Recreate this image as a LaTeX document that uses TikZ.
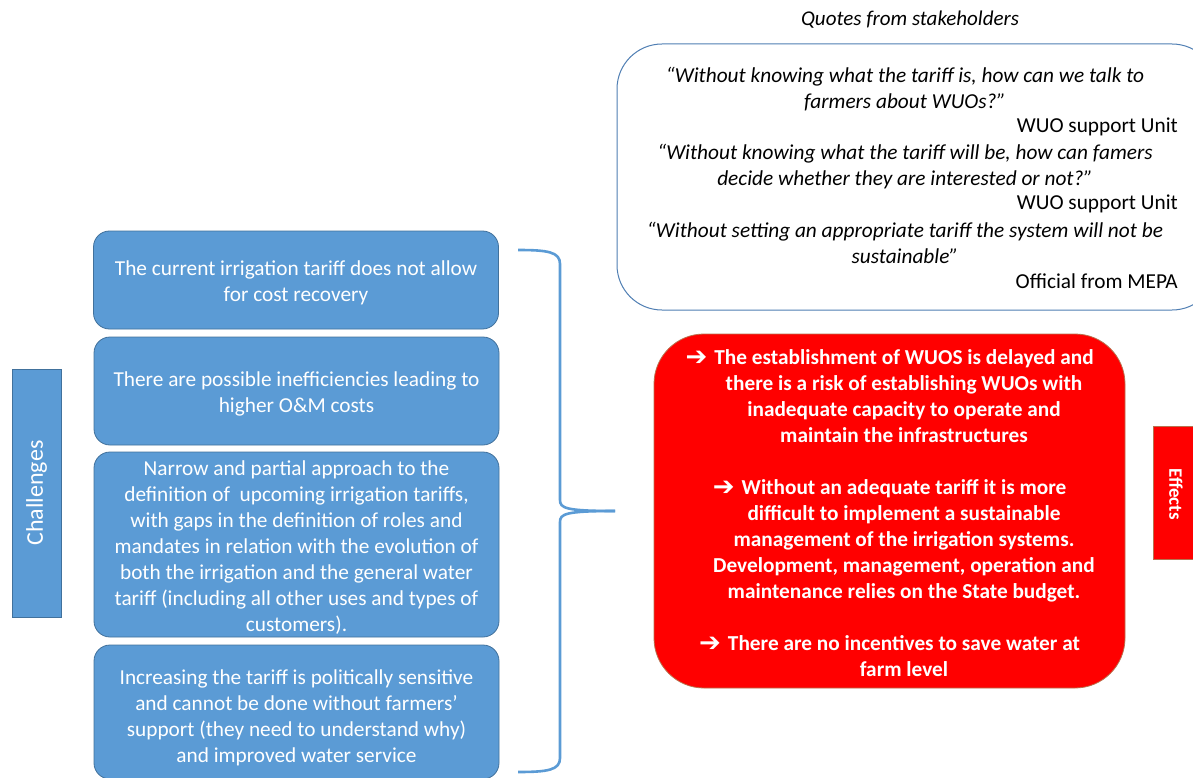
\documentclass[tikz,border=0pt]{standalone}
\usepackage{fontspec}
\setmainfont{Carlito}
\newfontfamily\arrowfont{DejaVu Sans}
\definecolor{boxblue}{HTML}{5B9BD5}
\definecolor{boxblueline}{HTML}{41719C}
\definecolor{quoteline}{HTML}{4F7EB3}
\definecolor{effred}{HTML}{FF0000}
\definecolor{effline}{HTML}{B8714E}
\newcommand{\effarrow}{\llap{\raisebox{-1pt}{\arrowfont\bfseries\fontsize{26pt}{26pt}\selectfont ➔}\hspace{7pt}}}
\tikzset{
  basefont/.style={font=\fontsize{21.3pt}{26pt}\selectfont},
  challengebox/.style={draw=boxblueline, line width=0.8pt, fill=boxblue, rounded corners=16pt, inner sep=0pt},
  challengetext/.style={text=white, basefont, align=center, inner sep=0pt},
  sidelabel/.style={draw=boxblueline, line width=0.8pt, fill=boxblue, inner sep=0pt},
  effectlabel/.style={draw=effline, line width=0.8pt, fill=effred, inner sep=0pt},
  quotebox/.style={draw=quoteline, line width=1pt, fill=white, rounded corners=45pt, inner sep=0pt},
  effectbox/.style={draw=effline, line width=0.8pt, fill=effred, rounded corners=50pt, inner sep=0pt},
  quotetext/.style={align=center, inner sep=0pt, font=\fontsize{21.3pt}{26pt}\selectfont\itshape},
  attribution/.style={basefont, inner sep=0pt, anchor=east},
  bracket/.style={draw=boxblue, line width=2.6pt},
}
\begin{document}
\begin{tikzpicture}[x=1pt,y=-1pt]
\path[use as bounding box] (0,0) rectangle (1193,778);
\clip (0,0) rectangle (1193,778);

% Left column: side label and the four challenges
\node[sidelabel, minimum width=49pt, minimum height=248pt] (chal) at (36.5,493) {};
\node[rotate=90, text=white, inner sep=0pt, font=\fontsize{24pt}{28pt}\selectfont] (chaltext) at (chal.center) {Challenges};

\node[challengebox, minimum width=405pt, minimum height=98pt] (c1) at (296,280) {};
\node[challengetext] (c1t) at (296,283)
  {The current irrigation tariff does not allow\\for cost recovery};
\node[challengebox, minimum width=405pt, minimum height=108pt] (c2) at (296.5,391) {};
\node[challengetext] (c2t) at (296.5,394)
  {There are possible inefficiencies leading to\\higher O\&M costs};
\node[challengebox, minimum width=405pt, minimum height=185pt] (c3) at (296.5,544.5) {};
\node[challengetext] (c3t) at (296.5,547.5)
  {Narrow and partial approach to the\\definition of\ \ upcoming irrigation tariffs,\\with gaps in the definition of roles and\\mandates in relation with the evolution of\\both the irrigation and the general water\\tariff (including all other uses and types of\\customers).};
\node[challengebox, minimum width=405pt, minimum height=134pt] (c4) at (296.5,712) {};
\node[challengetext] (c4t) at (296.5,718)
  {Increasing the tariff is politically sensitive\\and cannot be done without farmers’\\support (they need to understand why)\\and improved water service};

% Right brace gathering the challenges
\coordinate (btop) at (518,250);
\coordinate (btip) at (615,511);
\coordinate (bbot) at (518,772);
\draw[bracket] (btop) .. controls (548,250) and (560,252) .. (560,264)
  -- (560,500) .. controls (560,508) and (565,511) .. (btip);
\draw[bracket] (btip) .. controls (565,511) and (560,514) .. (560,522)
  -- (560,758) .. controls (560,770) and (548,772) .. (bbot);

% Quotes
\node[font=\fontsize{21pt}{26pt}\selectfont\itshape, inner sep=0pt] (qtitle) at (910,20) {Quotes from stakeholders};
\node[quotebox, minimum width=600pt, minimum height=266pt] (qbox) at (917,177) {};
\node[quotetext] (q1) at (905,89) {“Without knowing what the tariff is, how can we talk to\\farmers about WUOs?”};
\node[attribution] (a1) at (1178,127) {WUO support Unit};
\node[quotetext] (q2) at (905,167) {“Without knowing what the tariff will be, how can famers\\decide whether they are interested or not?”};
\node[attribution] (a2) at (1178,204) {WUO support Unit};
\node[quotetext] (q3) at (905,243) {“Without setting an appropriate tariff the system will not be\\sustainable”};
\node[attribution] (a3) at (1178,281) {Official from MEPA};

% Effects
\node[effectbox, minimum width=471pt, minimum height=354pt] (ebox) at (889.5,511) {};
\node[text=white, align=center, inner sep=0pt, font=\fontsize{21.3pt}{26pt}\selectfont\bfseries] (etext) at (904,513)
  {\effarrow The establishment of WUOS is delayed and\\there is a risk of establishing WUOs with\\inadequate capacity to operate and\\maintain the infrastructures\\[26pt]
   \effarrow Without an adequate tariff it is more\\difficult to implement a sustainable\\management of the irrigation systems.\\Development, management, operation and\\maintenance relies on the State budget.\\[26pt]
   \effarrow There are no incentives to save water at\\farm level};

\node[effectlabel, minimum width=48pt, minimum height=133pt] (eff) at (1177,492.5) {};
\node[rotate=-90, text=white, inner sep=0pt, font=\fontsize{19pt}{22pt}\selectfont\bfseries] (efftext) at (1176,494) {Effects};
\end{tikzpicture}
\end{document}
